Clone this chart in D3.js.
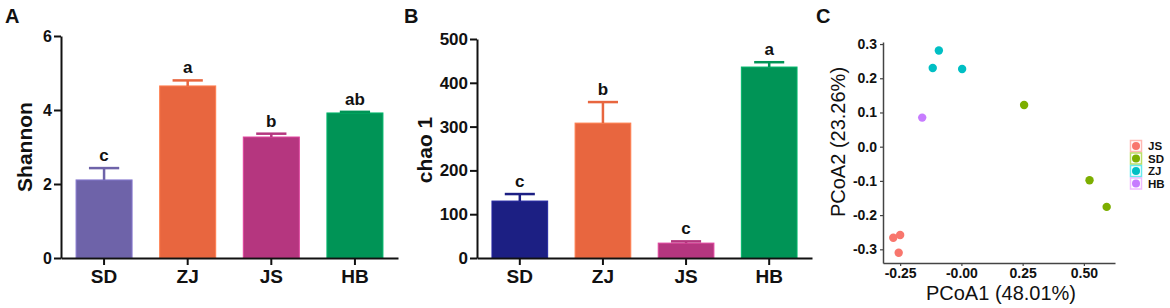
<!DOCTYPE html>
<html>
<head>
<meta charset="utf-8">
<script src="https://cdn.jsdelivr.net/npm/d3@7"></script>
<style>
  body { margin: 0; background: #fff; }
  svg { display: block; font-family: "Liberation Sans", Arial, sans-serif; }
</style>
</head>
<body>
<div id="chart"></div>
<script>
// data
const groups = ["SD", "ZJ", "JS", "HB"];
const shannonMean = [2.11, 4.65, 3.27, 3.92];
const shannonErr = [0.32, 0.15, 0.09, 0.03];
const shannonLetters = ["c", "a", "b", "ab"];
const shannonTicks = [0, 2, 4, 6];

const chaoMean = [130, 308, 34, 436];
const chaoErr = [16, 48, 4, 11];
const chaoLetters = ["c", "b", "c", "a"];
const chaoTicks = [0, 100, 200, 300, 400, 500];

const colorsA = ["#6e63a9", "#e8663f", "#b5367f", "#009456"];
const colorsB = ["#1c1f83", "#e8663f", "#b5367f", "#009456"];

const pcoaGroup = ["JS", "JS", "JS", "SD", "SD", "SD", "ZJ", "ZJ", "ZJ", "HB"];
const pcoa1 = [-0.278, -0.250, -0.256, 0.256, 0.523, 0.593, -0.092, -0.117, 0.003, -0.160];
const pcoa2 = [-0.266, -0.258, -0.310, 0.122, -0.098, -0.176, 0.281, 0.230, 0.227, 0.085];
const legendGroups = ["JS", "SD", "ZJ", "HB"];
const legendColors = ["#f8766d", "#7cae00", "#00bfc4", "#c77cff"];
const pcoaXTicks = [-0.25, 0, 0.25, 0.5];
const pcoaXLabels = ["-0.25", "-0.00", "0.25", "0.50"];
const pcoaYTicks = [-0.3, -0.2, -0.1, 0, 0.1, 0.2, 0.3];

const svg = d3.select("#chart").append("svg")
    .attr("width", 1170)
    .attr("height", 308);

function barPanel(cfg) {
    let g = svg.append("g");

    let x = d3.scaleBand()
        .domain(groups)
        .range([cfg.left, cfg.right])
        .paddingInner(0.33)
        .paddingOuter(0.18);

    let y = d3.scaleLinear()
        .domain([0, cfg.max])
        .range([258, cfg.top]);

    // bars
    g.selectAll("rect.bar")
        .data(groups)
        .enter().append("rect")
        .attr("class", "bar")
        .attr("x", d => x(d))
        .attr("width", x.bandwidth())
        .attr("y", (d, i) => y(cfg.mean[i]))
        .attr("height", (d, i) => y(0) - y(cfg.mean[i]))
        .attr("fill", (d, i) => cfg.colors[i])
        .attr("stroke", (d, i) => d3.color(cfg.colors[i]).brighter(0.6))
        .attr("stroke-width", 1);

    // error bars
    let cap = x.bandwidth() * 0.27;
    let eb = g.selectAll("g.err")
        .data(groups)
        .enter().append("g")
        .attr("class", "err")
        .attr("stroke", (d, i) => cfg.colors[i])
        .attr("stroke-width", 2.5);
    eb.append("line")
        .attr("x1", d => x(d) + x.bandwidth() / 2)
        .attr("x2", d => x(d) + x.bandwidth() / 2)
        .attr("y1", (d, i) => y(cfg.mean[i]))
        .attr("y2", (d, i) => y(cfg.mean[i] + cfg.err[i]));
    eb.append("line")
        .attr("x1", d => x(d) + x.bandwidth() / 2 - cap)
        .attr("x2", d => x(d) + x.bandwidth() / 2 + cap)
        .attr("y1", (d, i) => y(cfg.mean[i] + cfg.err[i]))
        .attr("y2", (d, i) => y(cfg.mean[i] + cfg.err[i]));

    // significance letters
    g.selectAll("text.sig")
        .data(groups)
        .enter().append("text")
        .attr("class", "sig")
        .attr("x", d => x(d) + x.bandwidth() / 2)
        .attr("y", (d, i) => y(cfg.mean[i] + cfg.err[i]) - 7)
        .attr("text-anchor", "middle")
        .attr("font-size", 17)
        .attr("font-weight", "bold")
        .attr("fill", "#111")
        .text((d, i) => cfg.letters[i]);

    // axes
    let yAxis = g.append("g")
        .attr("transform", `translate(${cfg.left},0)`)
        .call(d3.axisLeft(y).tickValues(cfg.ticks).tickFormat(d3.format("d"))
            .tickSize(7).tickPadding(2).tickSizeOuter(0));
    yAxis.selectAll("text")
        .attr("font-size", cfg.tickFont)
        .attr("font-weight", "bold")
        .attr("font-family", "Liberation Sans, Arial, sans-serif")
        .attr("fill", "#111");

    let xAxis = g.append("g")
        .attr("transform", "translate(0,258)")
        .call(d3.axisBottom(x).tickSize(7).tickPadding(5).tickSizeOuter(0));
    xAxis.selectAll("text")
        .attr("font-size", 19)
        .attr("font-weight", "bold")
        .attr("font-family", "Liberation Sans, Arial, sans-serif")
        .attr("fill", "#111");

    [yAxis, xAxis].forEach(a => {
        a.select(".domain").attr("stroke", "#111").attr("stroke-width", 2);
        a.selectAll(".tick line").attr("stroke", "#111").attr("stroke-width", 2);
    });

    // y label
    svg.append("text")
        .attr("transform", `translate(${cfg.labelX},${cfg.labelY}) rotate(-90)`)
        .attr("text-anchor", "middle")
        .attr("font-size", 21)
        .attr("font-weight", "bold")
        .attr("fill", "#111")
        .text(cfg.label);

    // panel letter
    svg.append("text")
        .attr("x", cfg.panelX)
        .attr("y", 23)
        .attr("font-size", 20)
        .attr("font-weight", "bold")
        .attr("fill", "#111")
        .text(cfg.panel);
}

barPanel({
    left: 61, right: 398, top: 36, max: 6,
    mean: shannonMean, err: shannonErr, letters: shannonLetters,
    ticks: shannonTicks, colors: colorsA, tickFont: 16,
    label: "Shannon", labelX: 32, labelY: 147,
    panel: "A", panelX: 5
});

barPanel({
    left: 477, right: 812, top: 39, max: 500,
    mean: chaoMean, err: chaoErr, letters: chaoLetters,
    ticks: chaoTicks, colors: colorsB, tickFont: 17,
    label: "chao 1", labelX: 432, labelY: 150,
    panel: "B", panelX: 404
});

// panel C: PCoA scatter
let gc = svg.append("g");
let px = d3.scaleLinear().domain([-0.32, 0.627]).range([883, 1115]);
let py = d3.scaleLinear().domain([-0.34, 0.306]).range([263, 42]);
let color = d3.scaleOrdinal().domain(legendGroups).range(legendColors);

let cxAxis = gc.append("g")
    .attr("transform", "translate(0,263)")
    .call(d3.axisBottom(px).tickValues(pcoaXTicks).tickFormat((d, i) => pcoaXLabels[i])
        .tickSize(3).tickPadding(2).tickSizeOuter(0));
let cyAxis = gc.append("g")
    .attr("transform", "translate(883,0)")
    .call(d3.axisLeft(py).tickValues(pcoaYTicks).tickFormat(d => d3.format(".1f")(d).replace("−", "-"))
        .tickSize(3).tickPadding(3).tickSizeOuter(0));
[cxAxis, cyAxis].forEach(a => {
    a.select(".domain").attr("stroke", "#444").attr("stroke-width", 1.5);
    a.selectAll(".tick line").attr("stroke", "#444").attr("stroke-width", 1.2);
    a.selectAll("text")
        .attr("font-size", 14)
        .attr("font-weight", "bold")
        .attr("font-family", "Liberation Sans, Arial, sans-serif")
        .attr("fill", "#111");
});

gc.selectAll("circle.pt")
    .data(pcoaGroup)
    .enter().append("circle")
    .attr("class", "pt")
    .attr("cx", (d, i) => px(pcoa1[i]))
    .attr("cy", (d, i) => py(pcoa2[i]))
    .attr("r", 4.2)
    .attr("fill", d => color(d));

svg.append("text")
    .attr("x", 1001)
    .attr("y", 300)
    .attr("text-anchor", "middle")
    .attr("font-size", 20)
    .attr("fill", "#111")
    .text("PCoA1 (48.01%)");

svg.append("text")
    .attr("transform", "translate(845,142) rotate(-90)")
    .attr("text-anchor", "middle")
    .attr("font-size", 20)
    .attr("fill", "#111")
    .text("PCoA2 (23.26%)");

svg.append("text")
    .attr("x", 816)
    .attr("y", 23)
    .attr("font-size", 20)
    .attr("font-weight", "bold")
    .attr("fill", "#111")
    .text("C");

// legend
let lg = svg.append("g").attr("transform", "translate(1130,140)");
let items = lg.selectAll("g.item")
    .data(legendGroups)
    .enter().append("g")
    .attr("class", "item")
    .attr("transform", (d, i) => `translate(0,${i * 12.5})`);
items.append("rect")
    .attr("x", 0.5).attr("y", 0.5)
    .attr("width", 11).attr("height", 11)
    .attr("fill", "#fff")
    .attr("stroke", d => d3.color(color(d)).brighter(0.4))
    .attr("stroke-opacity", 0.6)
    .attr("stroke-width", 1.5);
items.append("circle")
    .attr("cx", 6).attr("cy", 6).attr("r", 4)
    .attr("fill", d => color(d));
items.append("text")
    .attr("x", 18)
    .attr("y", 10)
    .attr("font-size", 11.5)
    .attr("font-weight", "bold")
    .attr("fill", "#111")
    .text(d => d);
</script>
</body>
</html>
